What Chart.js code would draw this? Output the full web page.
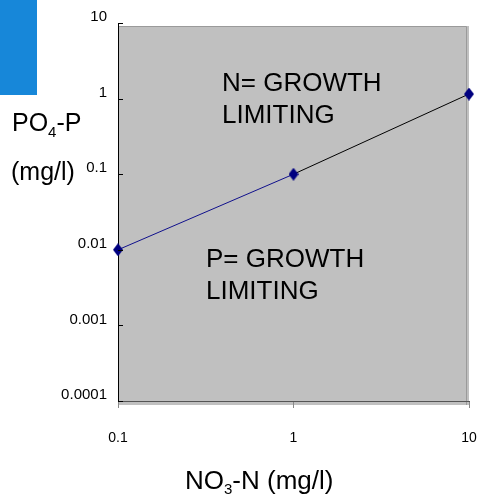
<!DOCTYPE html>
<html>
<head>
<meta charset="utf-8">
<script src="https://cdn.jsdelivr.net/npm/chart.js@4/dist/chart.umd.min.js"></script>
<style>
  html, body { margin: 0; padding: 0; background: #fff; }
  #wrap { width: 480px; height: 497px; }
</style>
</head>
<body>
<div id="wrap"><canvas id="ratioChart"></canvas></div>
<script>
// NO3-N vs PO4-P boundary line (log-log)
const nitrate = [0.1, 1, 10];
const phosphate = [0.01, 0.1, 1.15];
const segmentColors = ["#10108c", "#000000"];

const xTickValues = [0.1, 1, 10];
const xTickLabels = ["0.1", "1", "10"];
const yTickValues = [0.0001, 0.001, 0.01, 0.1, 1, 10];
const yTickLabels = ["0.0001", "0.001", "0.01", "0.1", "1", "10"];

const FONT = "'Liberation Sans', Arial, sans-serif";

const points = nitrate.map((x, i) => ({ x: x, y: phosphate[i] }));

// tall diamond marker
const marker = document.createElement("canvas");
marker.width = 10;
marker.height = 13;
(function () {
  const m = marker.getContext("2d");
  m.fillStyle = "#000080";
  m.beginPath();
  m.moveTo(5, 0);
  m.lineTo(10, 6.5);
  m.lineTo(5, 13);
  m.lineTo(0, 6.5);
  m.closePath();
  m.fill();
})();

// draws text with one subscript part: [before, sub, after]
function subText(ctx, parts, x, y, size, subSize, drop) {
  ctx.font = size + "px " + FONT;
  ctx.fillText(parts[0], x, y);
  x += ctx.measureText(parts[0]).width;
  ctx.font = subSize + "px " + FONT;
  ctx.fillText(parts[1], x, y + drop);
  x += ctx.measureText(parts[1]).width;
  ctx.font = size + "px " + FONT;
  ctx.fillText(parts[2], x, y);
}

const backdrop = {
  id: "backdrop",
  beforeDraw(chart) {
    const { ctx, chartArea: a } = chart;
    ctx.save();
    ctx.fillStyle = "#1787d9";
    ctx.fillRect(0, 0, 37, 95);
    ctx.fillStyle = "#c0c0c0";
    ctx.fillRect(a.left, a.top + 3, a.right - a.left, a.bottom - a.top + 1);
    ctx.strokeStyle = "#9a9a9a";
    ctx.lineWidth = 1;
    ctx.beginPath();
    ctx.moveTo(a.left, a.top + 3.5);
    ctx.lineTo(a.right - 2.5, a.top + 3.5);
    ctx.lineTo(a.right - 2.5, a.bottom + 4);
    ctx.stroke();
    ctx.restore();
  },
  afterDraw(chart) {
    const { ctx, chartArea: a } = chart;
    const y = chart.scales.y;
    ctx.save();
    // short inward ticks on the y axis
    ctx.strokeStyle = "#000";
    ctx.lineWidth = 1;
    yTickValues.forEach(v => {
      const py = Math.round(y.getPixelForValue(v)) + 0.5;
      ctx.beginPath();
      ctx.moveTo(a.left, py);
      ctx.lineTo(a.left + 5, py);
      ctx.stroke();
    });
    ctx.fillStyle = "#000";
    ctx.textBaseline = "alphabetic";
    ctx.textAlign = "left";
    // axis titles
    subText(ctx, ["PO", "4", "-P"], 12, 131, 25, 15, 6);
    ctx.font = "25px " + FONT;
    ctx.fillText("(mg/l)", 11, 180);
    subText(ctx, ["NO", "3", "-N (mg/l)"], 185, 489, 26, 15, 5);
    // region labels
    ctx.font = "26px " + FONT;
    ctx.fillText("N= GROWTH", 222, 91);
    ctx.fillText("LIMITING", 222, 123);
    ctx.fillText("P= GROWTH", 206, 267);
    ctx.fillText("LIMITING", 206, 299);
    ctx.restore();
  }
};

new Chart(document.getElementById("ratioChart"), {
  type: "scatter",
  data: {
    datasets: [
      {
        data: points,
        showLine: true,
        clip: false,
        borderWidth: 1,
        borderColor: "#000080",
        backgroundColor: "#000080",
        pointStyle: marker,
        pointRadius: 6,
        segment: {
          borderColor: c => segmentColors[c.p0DataIndex],
        },
      },
    ],
  },
  options: {
    responsive: true,
    maintainAspectRatio: false,
    animation: false,
    layout: { padding: { top: 23, right: 11, left: 0, bottom: 0 } },
    plugins: { legend: { display: false }, tooltip: { enabled: false } },
    scales: {
      x: {
        type: "logarithmic",
        min: 0.1,
        max: 10,
        afterBuildTicks: s => { s.ticks = xTickValues.map(v => ({ value: v })); },
        afterFit: s => { s.height = 96; s.paddingLeft = 0; s.paddingRight = 0; },
        ticks: {
          callback: (v, i) => xTickLabels[i],
          color: "#000",
          font: { family: FONT, size: 14 },
          padding: 22,
          maxRotation: 0,
          autoSkip: false,
        },
        grid: { drawOnChartArea: false, tickLength: 7, color: "#888" },
        border: { color: "#555" },
      },
      y: {
        type: "logarithmic",
        min: 0.0001,
        max: 10,
        afterBuildTicks: s => { s.ticks = yTickValues.map(v => ({ value: v })); },
        afterFit: s => { s.width = 118; s.paddingTop = 0; s.paddingBottom = 0; },
        ticks: {
          callback: (v, i) => yTickLabels[i],
          color: "#000",
          font: { family: FONT, size: 15 },
          padding: 11,
          labelOffset: -6,
          autoSkip: false,
        },
        grid: { display: false, drawTicks: false },
        border: { color: "#000" },
      },
    },
  },
  plugins: [backdrop],
});
</script>
</body>
</html>
